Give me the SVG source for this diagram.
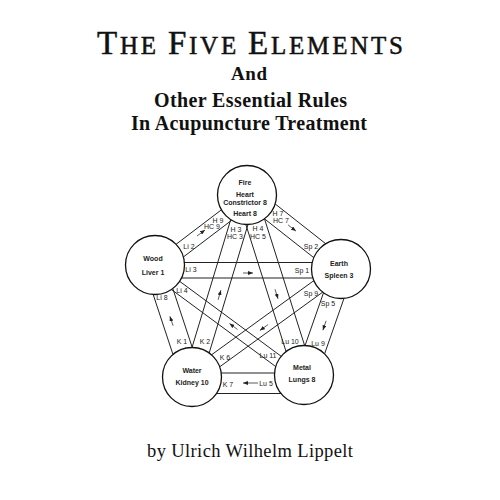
<svg xmlns="http://www.w3.org/2000/svg" width="500" height="500" viewBox="0 0 500 500">
<style>
.title{font-family:"Liberation Serif","Times New Roman",serif;fill:#111}
.node circle{fill:#fff;stroke:#111;stroke-width:1.3}
.node text{font-family:"Liberation Sans",Arial,sans-serif;font-size:7px;font-weight:bold;fill:#222;text-anchor:middle}
.lbl{font-family:"Liberation Sans",Arial,sans-serif;font-size:7px;fill:#222;text-anchor:middle}
.conn line{stroke:#222;stroke-width:1}
.arr line{stroke:#333;stroke-width:0.8;marker-end:url(#ah)}
</style>
<defs>
<marker id="ah" markerUnits="userSpaceOnUse" markerWidth="5" markerHeight="4" refX="5" refY="2" orient="auto">
<path d="M0,0 L5,2 L0,4 Z" fill="#222"/>
</marker>
</defs>
<rect width="500" height="500" fill="#fff"/>
<text class="title" x="97" y="54" textLength="306" lengthAdjust="spacing" stroke="#111" stroke-width="0.5"><tspan font-size="33">T</tspan><tspan font-size="25">HE </tspan><tspan font-size="33">F</tspan><tspan font-size="25">IVE </tspan><tspan font-size="33">E</tspan><tspan font-size="25">LEMENTS</tspan></text>
<text class="title" x="231" y="80" font-size="19" font-weight="bold" textLength="36" lengthAdjust="spacing">And</text>
<text class="title" x="154" y="107" font-size="20" font-weight="bold" textLength="193" lengthAdjust="spacing">Other Essential Rules</text>
<text class="title" x="131" y="130" font-size="20" font-weight="bold" textLength="236" lengthAdjust="spacing">In Acupuncture Treatment</text>
<text class="title" x="147" y="457" font-size="18.5" textLength="206" lengthAdjust="spacing">by Ulrich Wilhelm Lippelt</text>

<g id="connectors" class="conn">
<line x1="176.06" y1="244.31" x2="221.46" y2="209.79"/>
<line x1="183.39" y1="256.97" x2="231.69" y2="220.23"/>
<line x1="275.13" y1="203.91" x2="325.75" y2="243.75"/>
<line x1="264.45" y1="218.8" x2="313.77" y2="257.62"/>
<line x1="323.52" y1="292.75" x2="305.06" y2="345.53"/>
<line x1="344.01" y1="298.33" x2="324.59" y2="353.89"/>
<line x1="274.57" y1="373" x2="221.23" y2="373"/>
<line x1="281.02" y1="393.5" x2="216.45" y2="393.5"/>
<line x1="172.97" y1="354.48" x2="153.15" y2="294.42"/>
<line x1="192.25" y1="347.51" x2="172.79" y2="288.53"/>
<line x1="184.4" y1="262.5" x2="312.2" y2="262.5"/>
<line x1="181.5" y1="278" x2="312.9" y2="278"/>
<line x1="313.87" y1="280.62" x2="211.49" y2="354.84"/>
<line x1="322.7" y1="292.14" x2="219.7" y2="366.82"/>
<line x1="192.03" y1="347.5" x2="230.71" y2="219.58"/>
<line x1="209.16" y1="353.02" x2="248.02" y2="224.48"/>
<line x1="245.85" y1="224.47" x2="286.09" y2="351.57"/>
<line x1="264.48" y1="218.75" x2="304.62" y2="345.51"/>
<line x1="179.61" y1="281.29" x2="281.17" y2="356.29"/>
<line x1="171.4" y1="289.53" x2="275.72" y2="366.57"/>
</g>

<g id="arrows" class="arr">
<line x1="197" y1="236" x2="205" y2="230"/>
<line x1="288.1" y1="224.9" x2="295.9" y2="231.1"/>
<line x1="326.1" y1="320.8" x2="322.9" y2="330.2"/>
<line x1="258" y1="383" x2="243" y2="383"/>
<line x1="173.1" y1="325.7" x2="169.9" y2="316.3"/>
<line x1="243" y1="273" x2="253" y2="273"/>
<line x1="268.1" y1="324.6" x2="259.9" y2="330.4"/>
<line x1="218.1" y1="299.8" x2="220.9" y2="290.2"/>
<line x1="275" y1="289.2" x2="278" y2="298.8"/>
<line x1="237.5" y1="329.5" x2="229.5" y2="323.5"/>
</g>

<g id="labels">
<text class="lbl" x="218" y="222.5">H 9</text>
<text class="lbl" x="212" y="228.5">HC 9</text>
<text class="lbl" x="189" y="248.5">Li 2</text>
<text class="lbl" x="278" y="215.5">H 7</text>
<text class="lbl" x="281" y="222.5">HC 7</text>
<text class="lbl" x="311" y="248.5">Sp 2</text>
<text class="lbl" x="191" y="271.5">Li 3</text>
<text class="lbl" x="302" y="272.5">Sp 1</text>
<text class="lbl" x="236" y="231.5">H 3</text>
<text class="lbl" x="235" y="238.5">HC 3</text>
<text class="lbl" x="258" y="230.5">H 4</text>
<text class="lbl" x="258" y="238.5">HC 5</text>
<text class="lbl" x="182" y="292.5">Li 4</text>
<text class="lbl" x="311" y="295.5">Sp 9</text>
<text class="lbl" x="328" y="305.5">Sp 5</text>
<text class="lbl" x="162" y="299.5">Li 8</text>
<text class="lbl" x="182" y="343.5">K 1</text>
<text class="lbl" x="205" y="343.5">K 2</text>
<text class="lbl" x="225" y="359.5">K 6</text>
<text class="lbl" x="290" y="343.5">Lu 10</text>
<text class="lbl" x="268" y="357.5">Lu 11</text>
<text class="lbl" x="318" y="345.5">Lu 9</text>
<text class="lbl" x="228" y="386.5">K 7</text>
<text class="lbl" x="266" y="385.5">Lu 5</text>
</g>

<g id="fire" class="node">
<circle cx="247" cy="195" r="29.5"/>
<text x="245" y="184.5">Fire</text>
<text x="245" y="196.5">Heart</text>
<text x="245" y="204.5">Constrictor 8</text>
<text x="245" y="215.5">Heart 8</text>
</g>
<g id="wood" class="node">
<circle cx="155" cy="265" r="29.5"/>
<text x="153" y="260.5">Wood</text>
<text x="153" y="274.5">Liver 1</text>
</g>
<g id="earth" class="node">
<circle cx="341" cy="269" r="29.5"/>
<text x="339" y="265.5">Earth</text>
<text x="339" y="277.5">Spleen 3</text>
</g>
<g id="water" class="node">
<circle cx="192" cy="377" r="29.5"/>
<text x="192" y="373">Water</text>
<text x="192" y="385">Kidney 10</text>
</g>
<g id="metal" class="node">
<circle cx="304" cy="375" r="29.5"/>
<text x="302" y="369.5">Metal</text>
<text x="302" y="381.5">Lungs 8</text>
</g>
</svg>
